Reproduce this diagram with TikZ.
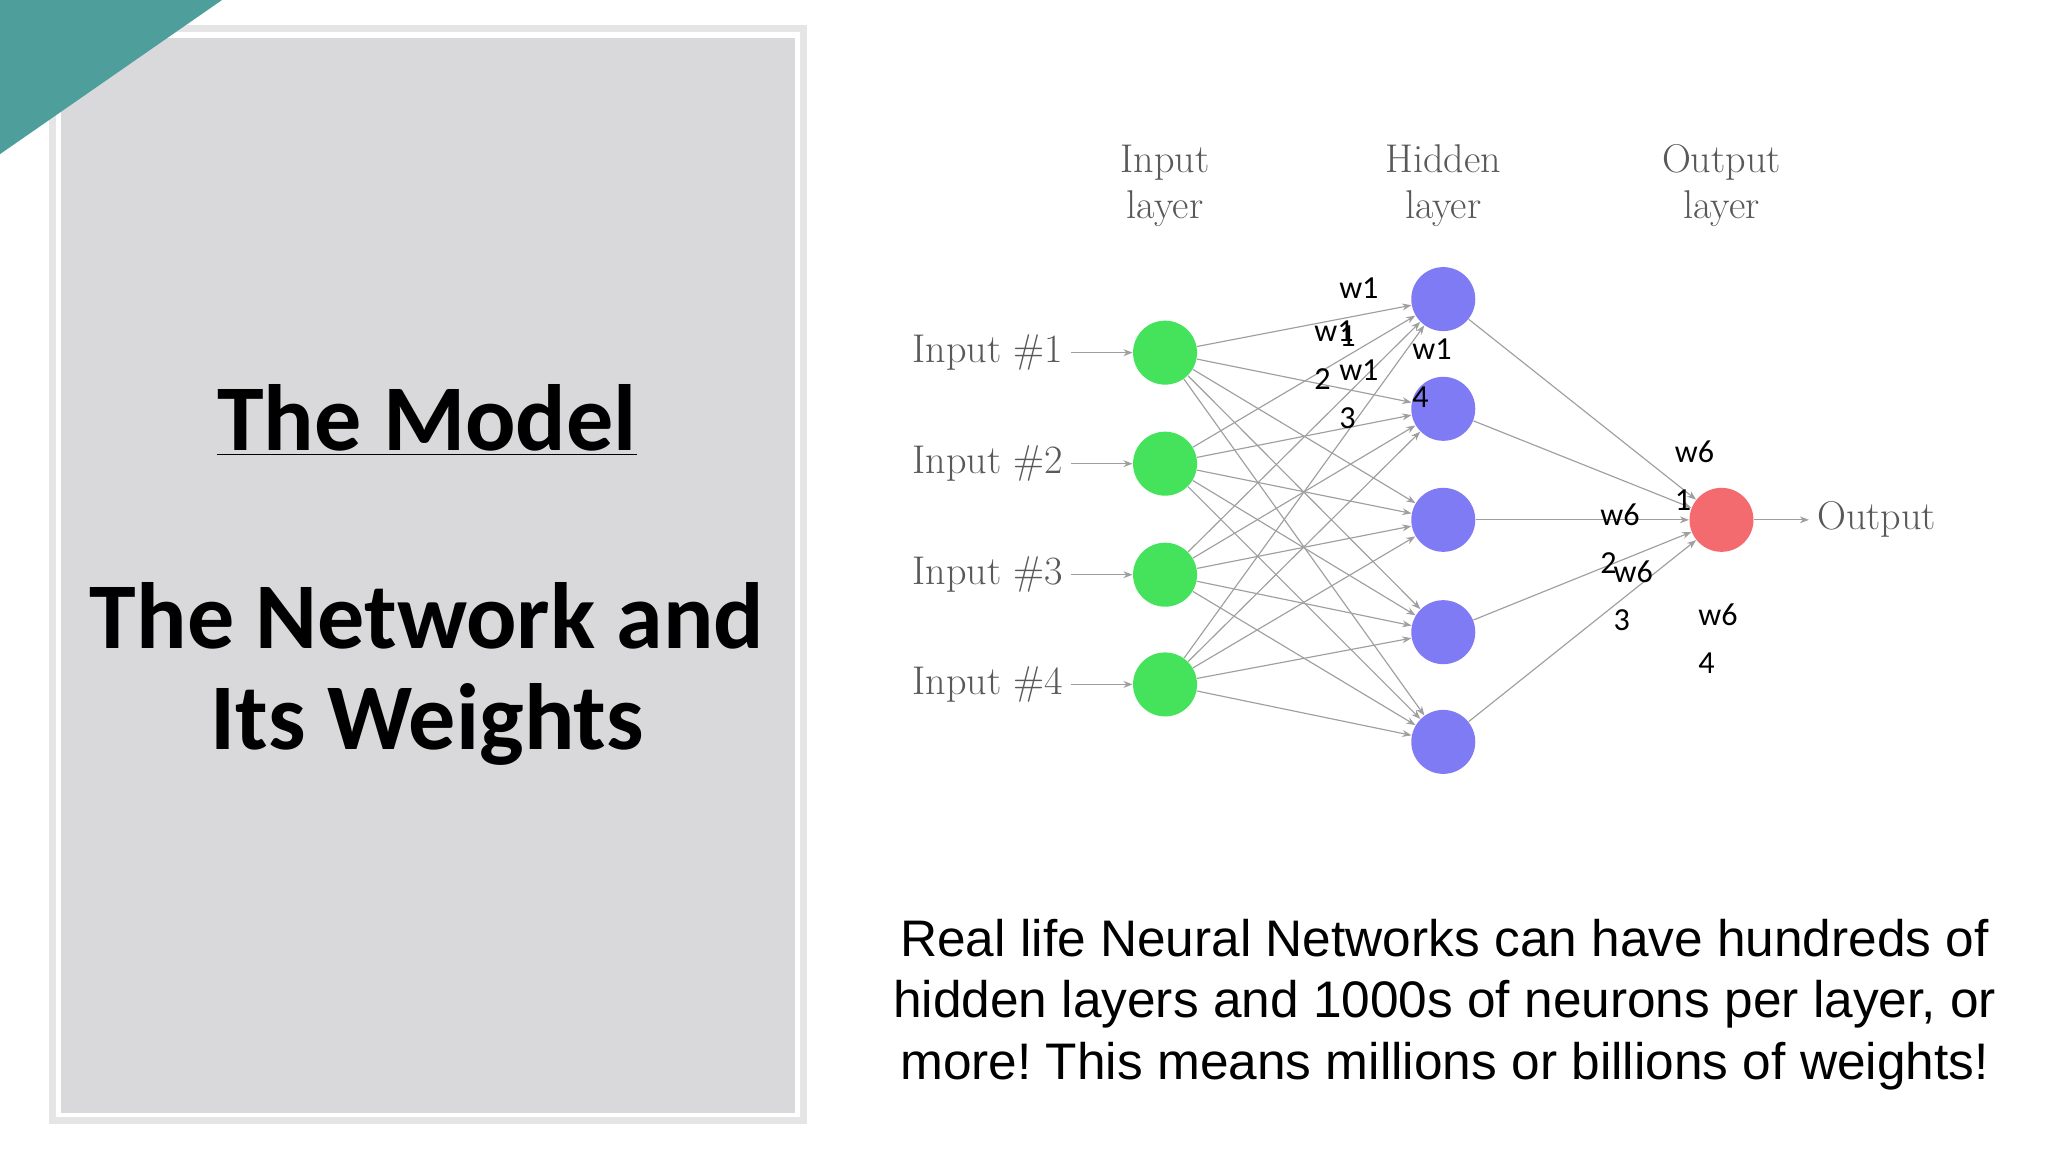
\documentclass[tikz,border=0pt]{standalone}
\usepackage{fontspec}
\setmainfont{Latin Modern Roman}
\newfontfamily\calib{Carlito}
\newfontfamily\arialf{Liberation Sans}
\usetikzlibrary{arrows.meta}
\definecolor{teal1}{HTML}{4E9E9C}
\definecolor{panel}{HTML}{D9D9DB}
\definecolor{gnode}{HTML}{45E35C}
\definecolor{bnode}{HTML}{7F7BF5}
\definecolor{rnode}{HTML}{F36B6E}
\frenchspacing
\begin{document}
\begin{tikzpicture}[x=0.02cm,y=-0.02cm,
  neuron/.style={circle,minimum size=0.98cm,inner sep=0},
  edge/.style={draw=gray!75,line width=0.5pt,-{Stealth[length=4pt,width=3pt]}},
  lay/.style={text=gray!70!black,font=\fontsize{17.5}{20}\selectfont,align=center},
  inlab/.style={text=gray!70!black,font=\fontsize{17.5}{20}\selectfont,anchor=east},
  wl/.style={font=\calib\fontsize{14}{21}\selectfont,align=left,anchor=north west,inner sep=0}]
\useasboundingbox (0,0) rectangle (1568,882);
\fill[white] (0,0) rectangle (1568,882);
\draw[gray!20,line width=3pt] (40,22) rectangle (615,858);
\fill[panel] (47,29) rectangle (609,852);
\fill[teal1] (0,0) -- (170,0) -- (0,118) -- cycle;
\node[font=\calib\bfseries\fontsize{41}{48}\selectfont] (t1) at (327,322) {\underline{The Model}};
\node[font=\calib\bfseries\fontsize{41}{44}\selectfont,align=center] (t2) at (327,516) {The Network and\\Its Weights};
% network
\foreach \i/\y in {1/270,2/355,3/440,4/524}{
  \node[neuron,fill=gnode] (I\i) at (892,\y) {};
  \node[inlab] (L\i) at (820,\y) {Input \#\i};
  \draw[edge] (L\i.east) -- (I\i.west);
}
\foreach \j/\y in {1/229,2/313,3/398,4/484,5/568}{
  \node[neuron,fill=bnode] (H\j) at (1105,\y) {};
}
\node[neuron,fill=rnode] (O) at (1318,398) {};
\node[inlab,anchor=west] (OL) at (1385,398) {Output};
\draw[edge] (O.east) -- (OL.west);
\foreach \i in {1,...,4}{\foreach \j in {1,...,5}{\draw[edge] (I\i) -- (H\j);}}
\foreach \j in {1,...,5}{\draw[edge] (H\j) -- (O);}
\node[lay] (la1) at (892,142) {Input\\layer};
\node[lay] (la2) at (1105,142) {Hidden\\layer};
\node[lay] (la3) at (1318,142) {Output\\layer};
% weights
\node[wl] (w11) at (1025,212) {w1\\1};
\node[wl] (w12) at (1006,245) {w1\\2};
\node[wl] (w13) at (1025,275) {w1\\3};
\node[wl] (w14) at (1081,259) {w1\\4};
\node[wl] (w61) at (1282,337) {w6\\1};
\node[wl] (w62) at (1225,385) {w6\\2};
\node[wl] (w63) at (1235,429) {w6\\3};
\node[wl] (w64) at (1300,462) {w6\\4};
\node[font=\arialf\fontsize{22.4}{26.8}\selectfont,align=center] (bt) at (1106,769)
 {Real life Neural Networks can have hundreds of\\hidden layers and 1000s of neurons per layer, or\\more! This means millions or billions of weights!};
\end{tikzpicture}
\end{document}
